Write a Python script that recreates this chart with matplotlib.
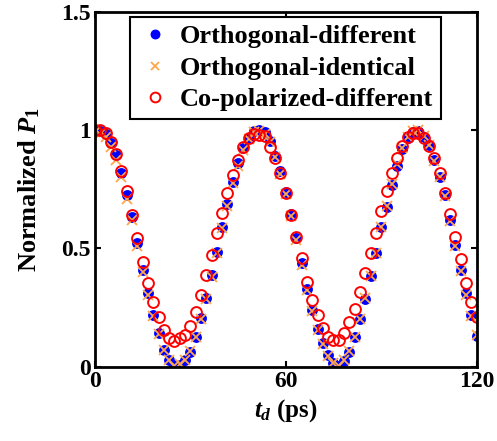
import matplotlib
matplotlib.use('Agg')
import matplotlib.pyplot as plt

plt.rcParams['font.family'] = ['Liberation Serif', 'DejaVu Serif']
plt.rcParams['font.weight'] = 'bold'
plt.rcParams['axes.labelweight'] = 'bold'
plt.rcParams['mathtext.fontset'] = 'custom'
plt.rcParams['mathtext.rm'] = 'Liberation Serif:bold'
plt.rcParams['mathtext.it'] = 'Liberation Serif:italic:bold'
plt.rcParams['mathtext.bf'] = 'Liberation Serif:bold'

# delay t_d (ps)
t = [0, 1.67, 3.33, 5, 6.67, 8.33, 10, 11.67, 13.33, 15, 16.67, 18.33,
     20, 21.67, 23.33, 25, 26.67, 28.33, 30, 31.67, 33.33, 35, 36.67, 38.33,
     40, 41.67, 43.33, 45, 46.67, 48.33, 50, 51.67, 53.33, 55, 56.67, 58.33,
     60, 61.67, 63.33, 65, 66.67, 68.33, 70, 71.67, 73.33, 75, 76.67, 78.33,
     80, 81.67, 83.33, 85, 86.67, 88.33, 90, 91.67, 93.33, 95, 96.67, 98.33,
     100, 101.67, 103.33, 105, 106.67, 108.33, 110, 111.67, 113.33, 115,
     116.67, 118.33, 120]

orth_diff = [1.0, .997, .983, .944, .894, .817, .725, .634, .521, .408, .313, .218,
             .144, .070, .028, .007, .007, .028, .063, .127, .204, .289, .387, .486,
             .592, .687, .782, .859, .923, .965, .997, 1.0, .99, .955, .89, .825,
             .74, .645, .545, .44, .33, .24, .16, .10, .05, .015, .005, .025,
             .06, .125, .2, .285, .385, .48, .59, .676, .768, .85, .918, .965,
             .99, .997, .972, .937, .873, .803, .725, .62, .514, .408,
             .31, .218, .13]

orth_ident = [.99, .985, .97, .93, .875, .80, .71, .62, .51, .40, .305, .215,
              .14, .07, .03, .005, .01, .03, .065, .125, .2, .285, .38, .48,
              .585, .68, .775, .85, .915, .96, .99, .995, .985, .95, .885, .815,
              .73, .635, .535, .43, .325, .235, .155, .095, .045, .015, .005, .03,
              .065, .125, .2, .29, .385, .48, .59, .68, .77, .855, .925, .97,
              .995, 1.0, .975, .935, .87, .80, .72, .615, .51, .405,
              .305, .215, .135]

copol_diff = [1.0, 1.0, .986, .951, .897, .827, .742, .641, .542, .444, .355, .275,
              .208, .155, .12, .11, .12, .134, .172, .232, .303, .387, .472, .566,
              .651, .735, .81, .873, .93, .965, .983, .98, .975, .93, .88, .82,
              .732, .641, .549, .458, .359, .282, .218, .162, .127, .113, .113, .144,
              .19, .242, .317, .394, .48, .566, .659, .744, .82, .88, .932, .972,
              .986, .986, .965, .932, .88, .817, .732, .645, .549, .454,
              .355, .275, .208]

labels = ['Orthogonal-different', 'Orthogonal-identical', 'Co-polarized-different']

fig = plt.figure(figsize=(4.97, 4.41), dpi=100)
ax = fig.add_axes([0.191, 0.1685, 0.768, 0.805])

ax.plot(t, orth_diff, 'o', color='b', mec='b', ms=6.8, label=labels[0])
ax.plot(t, orth_ident, 'x', color='#FFA64D', ms=7, mew=1.3, label=labels[1])
ax.plot(t, copol_diff, 'o', mfc='none', mec='r', ms=7.8, mew=1.4, label=labels[2])

ax.set_xlim(0, 120)
ax.set_ylim(0, 1.5)
ax.set_xticks([0, 60, 120])
ax.set_yticks([0, 0.5, 1, 1.5])
ax.set_yticklabels(['0', '0.5', '1', '1.5'])
ax.tick_params(direction='in', top=True, right=True, length=4, width=1.5,
               labelsize=17, pad=3)
for s in ax.spines.values():
    s.set_linewidth(2)

ax.set_xlabel(r'$t_d$ (ps)', fontsize=18, fontweight='bold', labelpad=4)
ax.set_ylabel(r'Normalized $P_1$', fontsize=19, fontweight='bold', labelpad=14)

leg = ax.legend(loc='upper left', bbox_to_anchor=(0.092, 0.985), borderaxespad=0,
                fontsize=19, fancybox=False, framealpha=1, edgecolor='k',
                handletextpad=0.3, labelspacing=0.3, borderpad=0.3,
                handlelength=1.3, markerscale=0.9)
leg.get_frame().set_linewidth(1.5)

plt.savefig('out.png', dpi=100)
